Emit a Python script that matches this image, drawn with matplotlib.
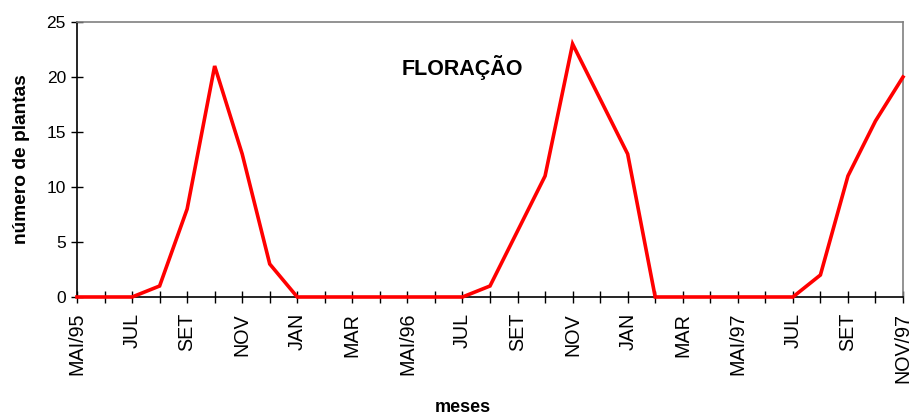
import matplotlib
matplotlib.use("Agg")
import matplotlib.pyplot as plt
from matplotlib.ticker import MultipleLocator, FixedLocator

# monthly count of flowering plants, MAI/95 .. NOV/97
months = ["MAI/95", "JUN", "JUL", "AGO", "SET", "OUT", "NOV", "DEZ",
          "JAN", "FEV", "MAR", "ABR", "MAI/96", "JUN", "JUL", "AGO",
          "SET", "OUT", "NOV", "DEZ", "JAN", "FEV", "MAR", "ABR",
          "MAI/97", "JUN", "JUL", "AGO", "SET", "OUT", "NOV/97"]
plantas = [0, 0, 0, 1, 8, 21, 13, 3,
           0, 0, 0, 0, 0, 0, 0, 1,
           6, 11, 23, 18, 13, 0, 0, 0,
           0, 0, 0, 2, 11, 16, 20]
yticks = [0, 5, 10, 15, 20, 25]

plt.rcParams['font.family'] = ['Liberation Sans', 'DejaVu Sans']

fig = plt.figure(figsize=(9.13, 4.18), dpi=100)
ax = fig.add_axes([77 / 913, 121 / 418, 826 / 913, 275 / 418])

x = list(range(len(months)))
ax.plot(x, plantas, color='#ff0000', linewidth=2.6, solid_joinstyle='miter', clip_on=False, zorder=3)

ax.set_xlim(0, len(months) - 1)
ax.set_ylim(0, 25)

# labels every two months, ticks every month
ax.xaxis.set_major_locator(FixedLocator(x[::2]))
ax.set_xticklabels(months[::2], rotation=90, fontsize=14.2)
ax.xaxis.set_minor_locator(MultipleLocator(1))
ax.set_yticks(yticks)
ax.set_yticklabels([str(v) for v in yticks], fontsize=12.5)

ax.tick_params(axis='x', which='both', direction='inout', length=9, width=1, pad=7)
ax.tick_params(axis='y', which='both', direction='inout', length=8, width=1, pad=4)

for side in ['top', 'right']:
    ax.spines[side].set_color('#808080')
    ax.spines[side].set_linewidth(1.2)
for side in ['left', 'bottom']:
    ax.spines[side].set_color('black')
    ax.spines[side].set_linewidth(1.2)

ax.set_ylabel('número de plantas', fontsize=13.8, fontweight='bold')
ax.yaxis.set_label_coords(-0.057, 0.5)
ax.set_xlabel('meses', fontsize=13, fontweight='bold', va='center')
ax.xaxis.set_label_coords(0.467, -0.40)

ax.text(0.467, 0.833, 'FLORAÇÃO', transform=ax.transAxes, fontsize=15.5,
        fontweight='bold', ha='center', va='center')

fig.savefig('out.png', dpi=100)
